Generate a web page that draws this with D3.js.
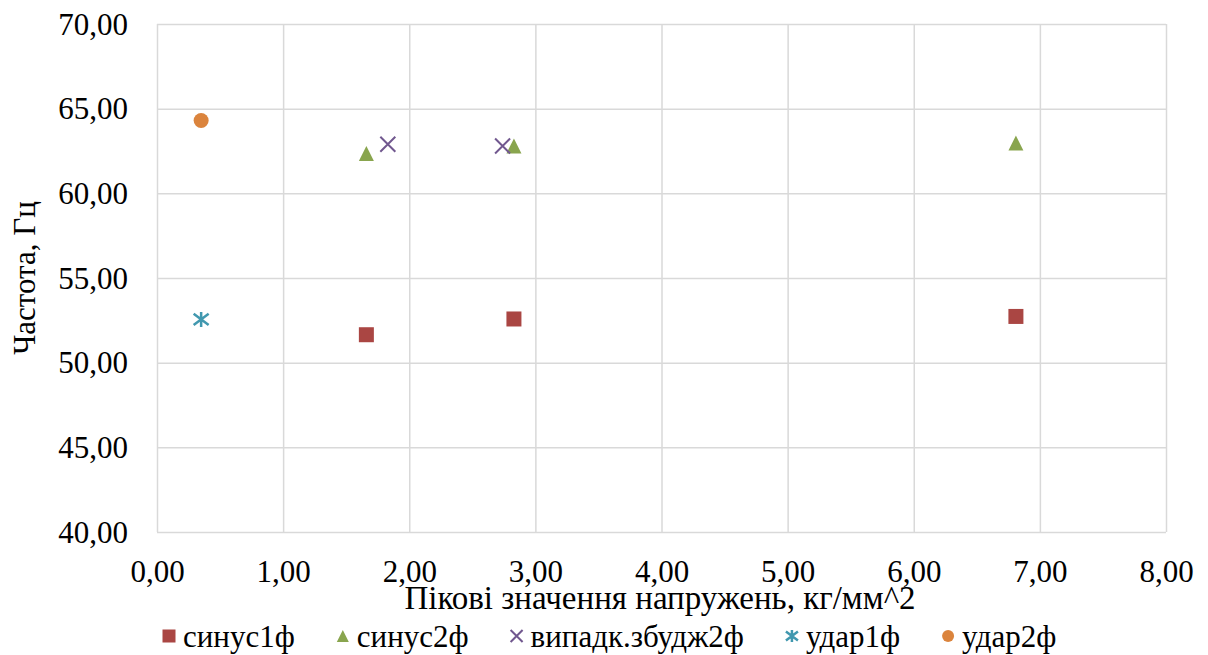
<!DOCTYPE html>
<html>
<head>
<meta charset="utf-8">
<script src="https://cdn.jsdelivr.net/npm/d3@7"></script>
<style>
  body { margin: 0; background: #fff; }
  svg text { font-family: "Times New Roman", "Liberation Serif", "DejaVu Serif", serif !important; fill: #000; }
</style>
</head>
<body>
<div id="chart"></div>
<script>
// Data
const seriesNames = ["синус1ф", "синус2ф", "випадк.збудж2ф", "удар1ф", "удар2ф"];
const sinus1X = [1.66, 2.83, 6.81];
const sinus1Y = [51.65, 52.58, 52.73];
const sinus2X = [1.66, 2.83, 6.81];
const sinus2Y = [62.35, 62.8, 62.97];
const randX = [1.83, 2.74];
const randY = [62.9, 62.8];
const udar1X = [0.35];
const udar1Y = [52.55];
const udar2X = [0.35];
const udar2Y = [64.3];
const xTicks = [0, 1, 2, 3, 4, 5, 6, 7, 8];
const yTicks = [40, 45, 50, 55, 60, 65, 70];

const colors = ["#AA4643", "#89A54E", "#71588F", "#4198AF", "#DB843D"];
const shapes = ["square", "triangle", "x", "star", "circle"];

const series = seriesNames.map((name, i) => {
    const xs = [sinus1X, sinus2X, randX, udar1X, udar2X][i];
    const ys = [sinus1Y, sinus2Y, randY, udar1Y, udar2Y][i];
    return {name: name, color: colors[i], shape: shapes[i], points: xs.map((x, j) => ({x: x, y: ys[j]}))};
});

const W = 1208, H = 655;
const margin = {top: 24, right: 42, bottom: 123, left: 157};
const width = W - margin.left - margin.right;
const height = H - margin.top - margin.bottom;
const serif = "'Times New Roman', 'Liberation Serif', 'DejaVu Serif', serif";

const svg = d3.select("#chart").append("svg")
    .attr("width", W)
    .attr("height", H)
    .attr("font-family", serif);

const g = svg.append("g")
    .attr("transform", "translate(" + margin.left + "," + margin.top + ")");

const x = d3.scaleLinear().domain([0, 8]).range([0, width]);
const y = d3.scaleLinear().domain([40, 70]).range([height, 0]);

const fmt = v => d3.format(".2f")(v).replace(".", ",");

// gridlines + tick labels via axes
const xAxis = g.append("g")
    .attr("transform", "translate(0," + height + ")")
    .call(d3.axisBottom(x).tickValues(xTicks).tickFormat(fmt).tickSize(-height).tickPadding(0));
const yAxis = g.append("g")
    .call(d3.axisLeft(y).tickValues(yTicks).tickFormat(fmt).tickSize(-width).tickPadding(29));

[xAxis, yAxis].forEach(a => {
    a.attr("font-family", serif).attr("font-size", 31);
    a.select(".domain").remove();
    a.selectAll(".tick line").attr("stroke", "#D9D9D9").attr("stroke-width", 1.5);
    a.selectAll(".tick text").attr("fill", "#000");
});
xAxis.selectAll(".tick text").attr("y", 0).attr("dy", 50);
yAxis.selectAll(".tick text").attr("dy", "0.33em");

// axis titles
svg.append("text")
    .attr("x", 660)
    .attr("y", 609)
    .attr("text-anchor", "middle")
    .attr("font-size", 33)
    .text("Пікові значення напружень, кг/мм^2");

svg.append("text")
    .attr("transform", "translate(35," + (margin.top + height / 2) + ") rotate(-90)")
    .attr("text-anchor", "middle")
    .attr("font-size", 31)
    .text("Частота, Гц");

// marker drawing
function drawMarker(sel, shape, color, s) {
    const h = s / 2;
    if (shape === "square") {
        sel.append("rect").attr("x", -h).attr("y", -h).attr("width", s).attr("height", s).attr("fill", color);
    } else if (shape === "triangle") {
        sel.append("path").attr("d", `M0,${-h}L${h},${h}L${-h},${h}Z`).attr("fill", color);
    } else if (shape === "x") {
        sel.append("path").attr("d", `M${-h},${-h}L${h},${h}M${-h},${h}L${h},${-h}`)
            .attr("stroke", color).attr("stroke-width", 2).attr("fill", "none");
    } else if (shape === "star") {
        sel.append("path").attr("d", `M${-h},${-h * 0.75}L${h},${h * 0.75}M${-h},${h * 0.75}L${h},${-h * 0.75}M0,${-h}L0,${h}`)
            .attr("stroke", color).attr("stroke-width", 2.5).attr("fill", "none");
    } else {
        sel.append("circle").attr("r", h).attr("fill", color);
    }
}

// points
series.forEach(s => {
    g.selectAll(null)
        .data(s.points)
        .join("g")
        .attr("transform", d => "translate(" + x(d.x) + "," + y(d.y) + ")")
        .each(function() { drawMarker(d3.select(this), s.shape, s.color, 15); });
});

// legend
const legend = svg.append("g").attr("transform", "translate(0,636)");
let lx = 169;
series.forEach(s => {
    const item = legend.append("g");
    const m = item.append("g").attr("transform", "translate(" + lx + ",0)");
    drawMarker(m, s.shape, s.color, s.shape === "square" ? 13 : 12);
    const t = item.append("text")
        .attr("x", lx + 14)
        .attr("y", 11)
        .attr("font-size", 31)
        .text(s.name);
    lx += 14 + t.node().getComputedTextLength() + 48;
});
</script>
</body>
</html>
